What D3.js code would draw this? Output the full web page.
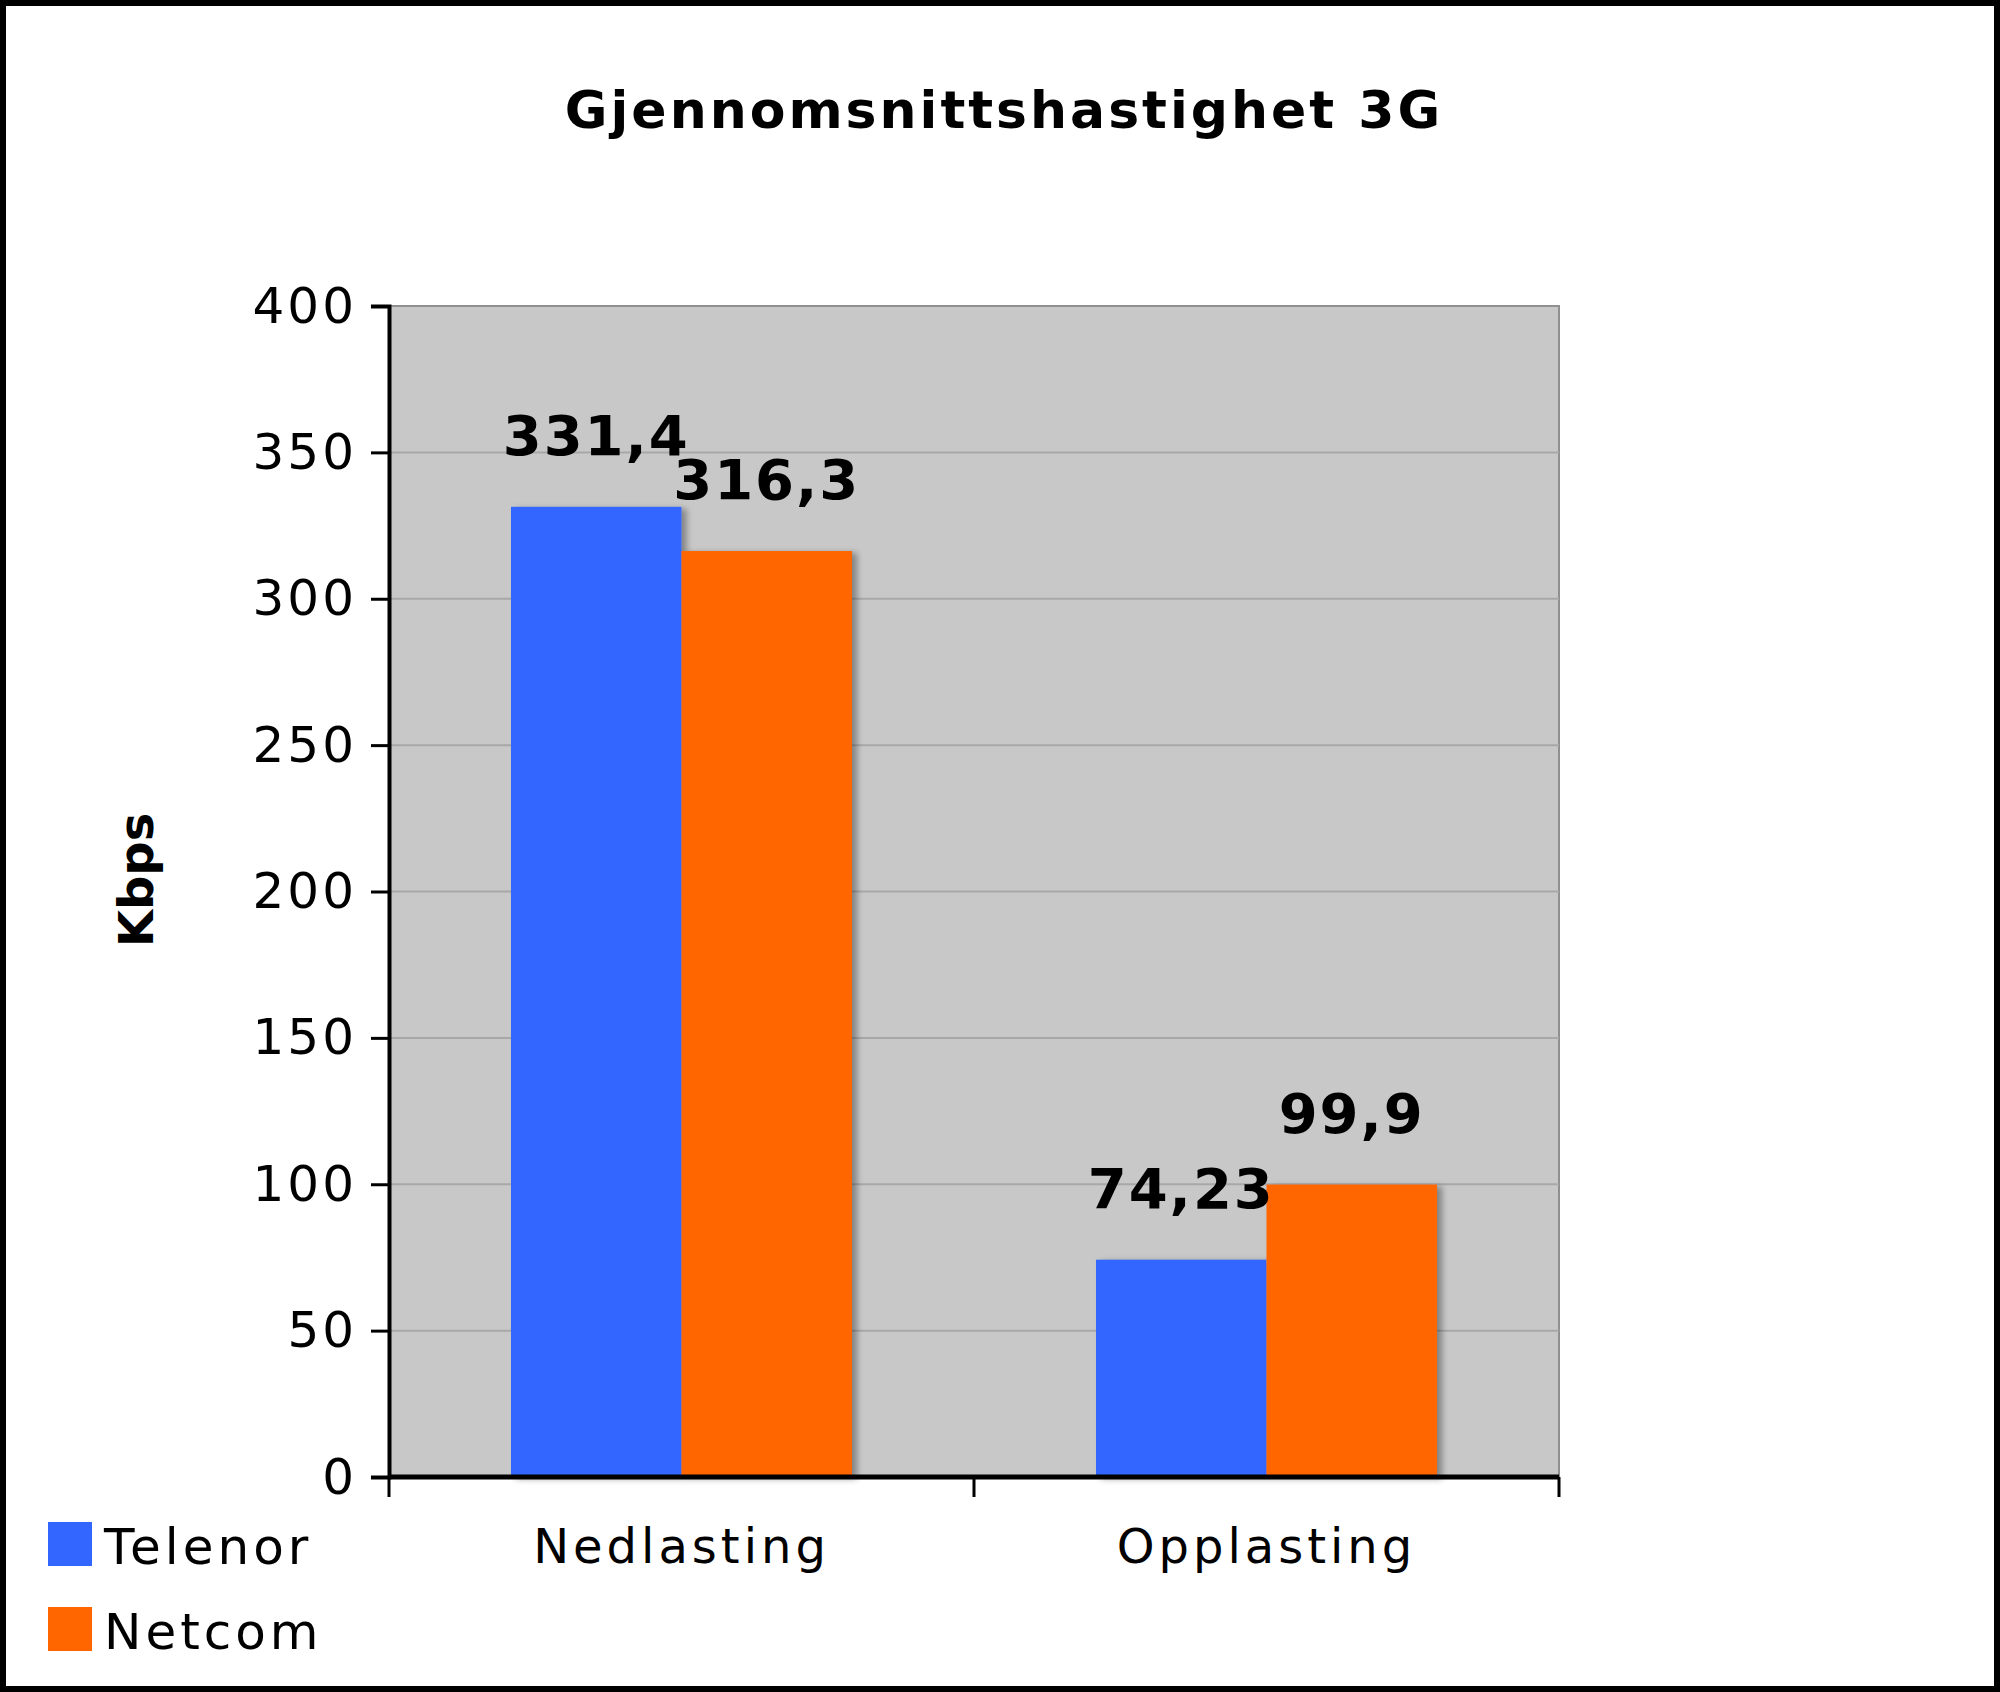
<!DOCTYPE html>
<html>
<head>
<meta charset="utf-8">
<script src="https://d3js.org/d3.v7.min.js"></script>
<style>
  body { margin: 0; background: #fff; }
  text { font-family: "DejaVu Sans", sans-serif; }
</style>
</head>
<body>
<script>
"use strict"
var categories = ["Nedlasting", "Opplasting"];
var series = ["Telenor", "Netcom"];
var colors = ["#3366ff", "#ff6600"];
var values = [[331.4, 74.23], [316.3, 99.9]];
var valueLabels = [["331,4", "74,23"], ["316,3", "99,9"]];
var yTicks = [0, 50, 100, 150, 200, 250, 300, 350, 400];

var W = 2000, H = 1692;
var margin = {top: 306, left: 389, right: 441, bottom: 215};
var svg = d3.select("body").append("svg").attr("width", W).attr("height", H);
svg.append("rect").attr("x", 3).attr("y", 3).attr("width", W - 6).attr("height", H - 6)
  .attr("fill", "#fff").attr("stroke", "#000").attr("stroke-width", 6);

var x = d3.scaleBand().domain(categories).range([margin.left, W - margin.right]).paddingInner(0).paddingOuter(0);
var y = d3.scaleLinear().domain([0, 400]).range([H - margin.bottom, margin.top]);
var inner = d3.scaleBand().domain(series).range([122, x.bandwidth() - 122]);

svg.append("rect").attr("x", x.range()[0]).attr("y", y(400))
  .attr("width", x.range()[1] - x.range()[0]).attr("height", y(0) - y(400))
  .attr("fill", "#c8c8c8").attr("stroke", "#909090").attr("stroke-width", 2);

svg.selectAll(".grid").data(yTicks.slice(1, -1)).enter().append("line")
  .attr("x1", x.range()[0]).attr("x2", x.range()[1])
  .attr("y1", d => y(d)).attr("y2", d => y(d))
  .attr("stroke", "#a8a8a8").attr("stroke-width", 2);

var defs = svg.append("defs");
var f = defs.append("filter").attr("id", "sh").attr("x", "-10%").attr("y", "-10%").attr("width", "130%").attr("height", "130%");
f.append("feDropShadow").attr("dx", 5).attr("dy", 2).attr("stdDeviation", 3).attr("flood-color", "#000").attr("flood-opacity", 0.35);

series.forEach(function (s, si) {
  categories.forEach(function (c, ci) {
    var v = values[si][ci];
    var bx = x(c) + inner(s);
    svg.append("rect").attr("x", bx).attr("y", y(v)).attr("width", inner.bandwidth())
      .attr("height", y(0) - y(v)).attr("fill", colors[si]).attr("filter", "url(#sh)");
  });
});
series.forEach(function (s, si) {
  categories.forEach(function (c, ci) {
    var v = values[si][ci];
    svg.append("text").attr("x", x(c) + inner(s) + inner.bandwidth() / 2).attr("y", y(v) - 52)
      .attr("text-anchor", "middle").attr("font-size", 56).attr("font-weight", "bold")
      .attr("letter-spacing", 2).text(valueLabels[si][ci]);
  });
});

var yAxis = svg.append("g").attr("transform", "translate(" + margin.left + ",0)")
  .call(d3.axisLeft(y).tickValues(yTicks).tickSize(18).tickPadding(14));
yAxis.select(".domain").attr("stroke-width", 4);
yAxis.selectAll("line").attr("stroke-width", 3);
yAxis.selectAll("text").attr("font-size", 50).attr("letter-spacing", 3).attr("fill", "#000");

var xAxis = svg.append("g").attr("transform", "translate(0," + y(0) + ")")
  .call(d3.axisBottom(x).tickSize(0).tickPadding(0));
xAxis.select(".domain").attr("stroke-width", 5).attr("d", "M" + x.range()[0] + ",0H" + x.range()[1]);
xAxis.selectAll(".tick text").attr("font-size", 48).attr("letter-spacing", 4).attr("dy", 0).attr("y", 86).attr("fill", "#000");
var bounds = [x.range()[0], x.range()[0] + x.bandwidth(), x.range()[1]];
svg.selectAll(".xt").data(bounds).enter().append("line")
  .attr("x1", d => d).attr("x2", d => d).attr("y1", y(0)).attr("y2", y(0) + 20)
  .attr("stroke", "#000").attr("stroke-width", 3);

svg.append("text").attr("x", 1004).attr("y", 128).attr("text-anchor", "middle")
  .attr("font-size", 52).attr("font-weight", "bold").attr("letter-spacing", 3).text("Gjennomsnittshastighet 3G");
svg.append("text").attr("transform", "translate(153,880) rotate(-90)").attr("text-anchor", "middle")
  .attr("font-size", 48).attr("font-weight", "bold").text("Kbps");

series.forEach(function (s, i) {
  var ly = 1522 + i * 85;
  svg.append("rect").attr("x", 48).attr("y", ly).attr("width", 44).attr("height", 44).attr("fill", colors[i]);
  svg.append("text").attr("x", 104).attr("y", ly + 42).attr("font-size", 50).attr("letter-spacing", 4).text(s);
});
</script>
</body>
</html>
